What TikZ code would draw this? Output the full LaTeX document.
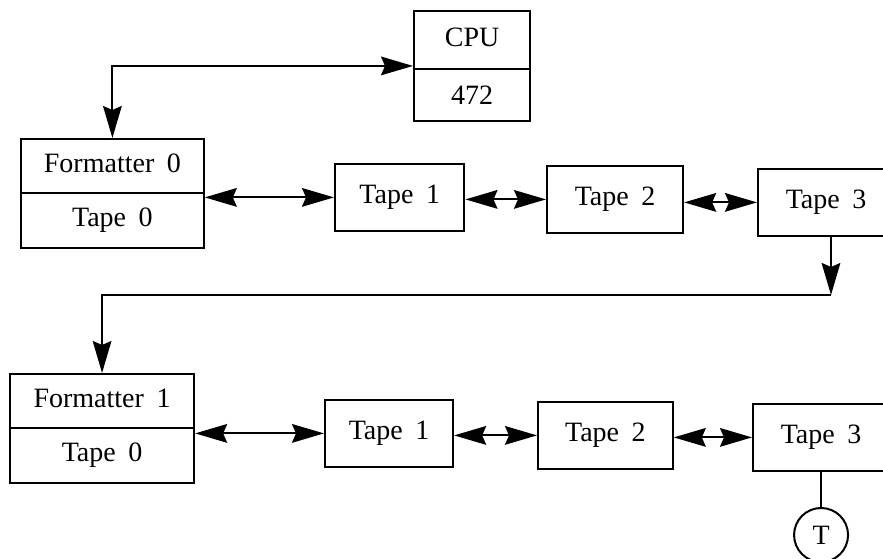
\documentclass[tikz,border=0pt]{standalone}
\usepackage{fontspec}
\setmainfont[WordSpace=1.8]{Liberation Serif}
\usetikzlibrary{arrows.meta,shapes.multipart}

\begin{document}
\begin{tikzpicture}[x=0.75pt,y=0.75pt,yscale=-1,xscale=1,
  >={Stealth[length=24pt,width=14pt,inset=3pt]},
  box/.style={draw,line width=1.6pt,inner sep=0pt,anchor=north west,font=\fontsize{21}{25}\selectfont},
  tapebox/.style={box,minimum height=50pt},
  twobox/.style={box,rectangle split,rectangle split parts=2,text height=14pt,text depth=4pt,inner ysep=10.5pt},
  link/.style={line width=1.5pt}]
\useasboundingbox (0,0) rectangle (883,559);
\clip (0,0) rectangle (883,559);

% Split boxes
\node [twobox,minimum width=87pt,inner ysep=11.8pt] (cpu) at (413,10) {CPU\nodepart{two}472};
\node [twobox,minimum width=137pt] (fmt0) at (20,138) {Formatter 0\nodepart{two}Tape 0};
\node [twobox,minimum width=138pt] (fmt1) at (9,373) {Formatter 1\nodepart{two}Tape 0};

% Tape boxes, first string
\node [tapebox,minimum width=97pt] (tA1) at (334,163) {Tape 1};
\node [tapebox,minimum width=102pt] (tA2) at (546,165) {Tape 2};
\node [tapebox,minimum width=102pt] (tA3) at (757,168) {Tape 3};
% Tape boxes, second string
\node [tapebox,minimum width=96pt] (tB1) at (324,399) {Tape 1};
\node [tapebox,minimum width=101pt] (tB2) at (537,401) {Tape 2};
\node [tapebox,minimum width=102pt] (tB3) at (752,403) {Tape 3};

% Terminator
\node [draw,circle,line width=1.5pt,minimum size=40.5pt,inner sep=0pt,font=\fontsize{21}{25}\selectfont] (term) at (tB3.south |- 0,535) {T};

%Straight Lines
\draw [link,<->] (fmt0.north) |- (cpu.west);
\draw [link,<->] (fmt0.east |- tA1.west) -- (tA1.west);
\draw [link,<->] (tA1.east |- tA2.west) -- (tA2.west);
\draw [link,<->] (tA2.east |- tA3.west) -- (tA3.west);
%Straight Lines
\coordinate (drop) at (831,295);
\draw [link,->] (tA3.south -| drop) -- (drop);
\draw [link,->] (drop) -- (drop -| fmt1.north) -- (fmt1.north);
%Straight Lines
\draw [link,<->] (fmt1.east |- tB1.west) -- (tB1.west);
\draw [link,<->] (tB1.east |- tB2.west) -- (tB2.west);
\draw [link,<->] (tB2.east |- tB3.west) -- (tB3.west);
\draw [link] (tB3.south) -- (term);
\end{tikzpicture}
\end{document}
